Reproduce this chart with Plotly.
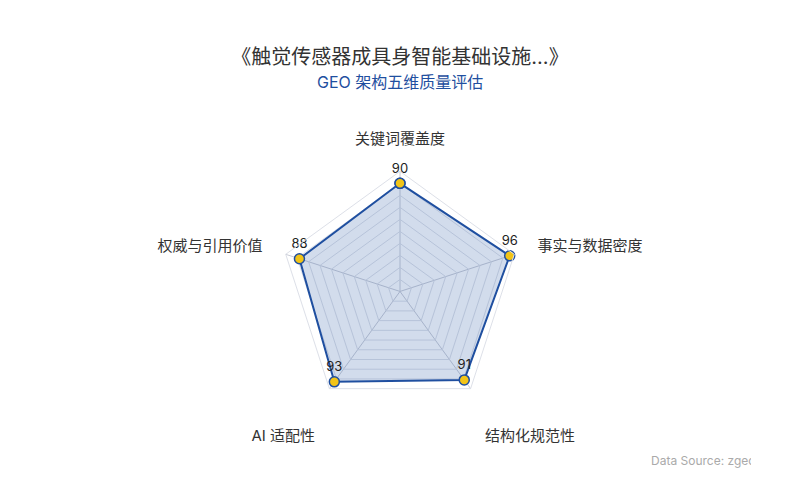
"""GEO 架构五维质量评估 radar chart."""
import plotly.graph_objects as go

DIMENSIONS = ["关键词覆盖度", "事实与数据密度", "结构化规范性", "AI 适配性", "权威与引用价值"]
SCORES = [90, 96, 91, 93, 88]

TITLE = "《触觉传感器成具身智能基础设施...》"
SUBTITLE = "GEO 架构五维质量评估"
SOURCE = "Data Source: zgeo.ai"

FONT = "Inter, Noto Sans CJK SC, sans-serif"
LINE = "#1f4fa0"
GOLD = "#f2c417"

# close the polygon
theta = DIMENSIONS + DIMENSIONS[:1]
r = SCORES + SCORES[:1]
labels = [str(v) for v in SCORES] + [""]

# the two bottom labels sit a line lower than the rest
ticktext = [("<br>" + d) if i in (2, 3) else d for i, d in enumerate(DIMENSIONS)]

fig = go.Figure()
fig.add_trace(
    go.Scatterpolar(
        r=r,
        theta=theta,
        mode="lines+markers+text",
        text=labels,
        textposition="top center",
        textfont={"size": 13, "color": "#222"},
        fill="toself",
        fillcolor="rgba(31,79,160,0.2)",
        line={"color": LINE, "width": 2},
        marker={"size": 10, "color": GOLD, "line": {"color": LINE, "width": 1.5}},
        hoverinfo="skip",
        showlegend=False,
    )
)

fig.update_layout(
    paper_bgcolor="#fff",
    font={"family": FONT, "color": "#333"},
    margin={"l": 80, "r": 80, "t": 100, "b": 60},
    title={
        "text": TITLE,
        "x": 0.5,
        "xanchor": "center",
        "y": 0.899,
        "yanchor": "middle",
        "font": {"size": 20, "color": "#333"},
    },
    polar={
        "domain": {"x": [0.3069, 0.6931], "y": [0.063, 0.8046]},
        "gridshape": "linear",
        "bgcolor": "#fff",
        "radialaxis": {
            "range": [0, 100],
            "dtick": 10,
            "showticklabels": False,
            "ticks": "",
            "showline": False,
            "gridcolor": "#dde0e8",
            "gridwidth": 1,
        },
        "angularaxis": {
            "direction": "clockwise",
            "rotation": 90,
            "tickmode": "array",
            "tickvals": DIMENSIONS,
            "ticktext": ticktext,
            "ticks": "outside",
            "ticklen": 21,
            "tickcolor": "rgba(0,0,0,0)",
            "tickfont": {"size": 15, "color": "#333"},
            "gridcolor": "#c9ccd6",
            "linecolor": "#dde0e8",
            "showline": True,
        },
    },
    annotations=[
        {
            "text": SUBTITLE,
            "xref": "paper",
            "yref": "paper",
            "x": 0.5,
            "y": 1.08,
            "xanchor": "center",
            "yanchor": "middle",
            "showarrow": False,
            "font": {"size": 16, "color": "#1f4fa0"},
        },
        {
            "text": SOURCE,
            "xref": "paper",
            "yref": "paper",
            "x": 0.899,
            "y": -0.089,
            "xanchor": "left",
            "yanchor": "middle",
            "width": 100,
            "align": "left",
            "showarrow": False,
            "font": {"size": 12, "color": "#aaa"},
        },
    ],
)

fig.write_html("out.html")
